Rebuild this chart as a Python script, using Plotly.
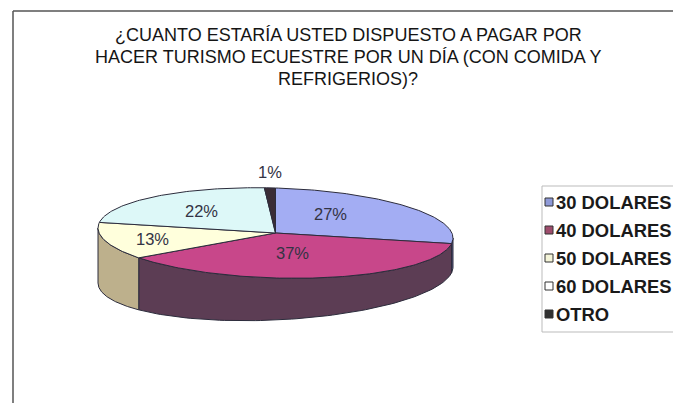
import numpy as np
import plotly.graph_objects as go

# ---- data ----
categories = ["30 DOLARES", "40 DOLARES", "50 DOLARES", "60 DOLARES", "OTRO"]
values = [27, 37, 13, 22, 1]
label_texts = ["27%", "37%", "13%", "22%", "1%"]
title_lines = ["¿CUANTO ESTARÍA USTED DISPUESTO A PAGAR POR",
               "HACER TURISMO ECUESTRE POR UN DÍA (CON COMIDA Y",
               "REFRIGERIOS)?"]

# ---- styles ----
top_colors = ["#A3ADF3", "#C8478A", "#FFFFDC", "#DDF8F8", "#3A2C36"]
side_colors = ["#5F6294", "#5C3D54", "#BDB08C", "#9FB8B8", "#2A1F27"]
legend_colors = ["#8F9AD8", "#9E4C6C", "#F4F4D8", "#FFFFFF", "#303030"]
label_rx = [0.41, 0.35, 0.72, 0.61, 1.0]
label_ry = [0.70, 0.44, 0.72, 0.62, 1.36]
edge = "#2C2C3C"

W, H = 673, 403
cx, cy, a, b = 275.5, 233.0, 177.5, 45.0
tilt = 5.0            # slight rotation of the top face
d0, dk = 42.0, 13.0   # side depth (deeper on the left: perspective)

def pt(theta_deg, rx=1.0, ry=None, bottom=False):
    if ry is None:
        ry = rx
    t = np.radians(theta_deg)
    s, c = np.sin(t), np.cos(t)
    x = cx + a * rx * s
    y = cy - b * ry * c + tilt * rx * s
    if bottom:
        y = y + d0 - dk * s
    return x, y

fig = go.Figure()

total = float(sum(values))
bounds = np.concatenate([[0], np.cumsum(values) / total * 360.0])

# side walls (front half: 90..270 deg)
for i in range(len(values)):
    t1, t2 = max(bounds[i], 90.0), min(bounds[i + 1], 270.0)
    if t2 <= t1:
        continue
    th = np.linspace(t1, t2, 80)
    xs_top, ys_top = pt(th)
    xs_bot, ys_bot = pt(th[::-1], bottom=True)
    xs = np.concatenate([xs_top, xs_bot, [xs_top[0]]])
    ys = np.concatenate([ys_top, ys_bot, [ys_top[0]]])
    fig.add_trace(go.Scatter(x=xs, y=ys, mode="lines", fill="toself",
                             fillcolor=side_colors[i],
                             line=dict(color=edge, width=1),
                             hoverinfo="skip", showlegend=False))

# top faces
for i in range(len(values)):
    th = np.linspace(bounds[i], bounds[i + 1], max(int(values[i] * 4), 6))
    xs_arc, ys_arc = pt(th)
    xs = np.concatenate([[cx], xs_arc, [cx]])
    ys = np.concatenate([[cy], ys_arc, [cy]])
    fig.add_trace(go.Scatter(x=xs, y=ys, mode="lines", fill="toself",
                             fillcolor=top_colors[i],
                             line=dict(color=edge, width=1),
                             name=categories[i],
                             hoverinfo="skip", showlegend=False))

# slice labels
for i in range(len(values)):
    mid = (bounds[i] + bounds[i + 1]) / 2.0
    lx, ly = pt(mid, rx=label_rx[i], ry=label_ry[i])
    fig.add_annotation(x=lx, y=ly, text=label_texts[i], showarrow=False,
                       xanchor="center", yanchor="middle",
                       font=dict(family="Liberation Sans, Arial", size=16.5,
                                 color="#333344"))

# title
title_y = [35, 57, 79]
for line, y in zip(title_lines, title_y):
    fig.add_annotation(x=348, y=y, text=line, showarrow=False,
                       xanchor="center", yanchor="middle",
                       font=dict(family="Liberation Sans, Arial", size=18,
                                 color="#151515"))

# legend (manual, box runs off the right edge like the reference)
leg_y = [202, 230, 258, 286, 314]
fig.add_trace(go.Scatter(x=[549] * len(categories), y=leg_y, mode="markers",
                         marker=dict(symbol="square", size=8,
                                     color=legend_colors,
                                     line=dict(color="#333333", width=1)),
                         hoverinfo="skip", showlegend=False))
for c, y in zip(categories, leg_y):
    fig.add_annotation(x=554, y=y, text="<b>%s</b>" % c, showarrow=False,
                       xanchor="left", yanchor="middle",
                       font=dict(family="Liberation Sans, Arial", size=18.4,
                                 color="#1A1A1A"))

shapes = [
    dict(type="line", x0=13, x1=13, y0=11, y1=H, line=dict(color="#555555", width=1.5)),
    dict(type="line", x0=13, x1=W, y0=11, y1=11, line=dict(color="#555555", width=1.5)),
    dict(type="rect", x0=542, x1=W + 20, y0=186, y1=332,
         line=dict(color="#BBBBBB", width=1)),
]

fig.update_layout(
    width=W, height=H,
    margin=dict(l=0, r=0, t=0, b=0),
    paper_bgcolor="white", plot_bgcolor="white",
    shapes=shapes,
    xaxis=dict(range=[0, W], visible=False, fixedrange=True),
    yaxis=dict(range=[H, 0], visible=False, fixedrange=True),
    showlegend=False,
)

fig.write_html("out.html")
